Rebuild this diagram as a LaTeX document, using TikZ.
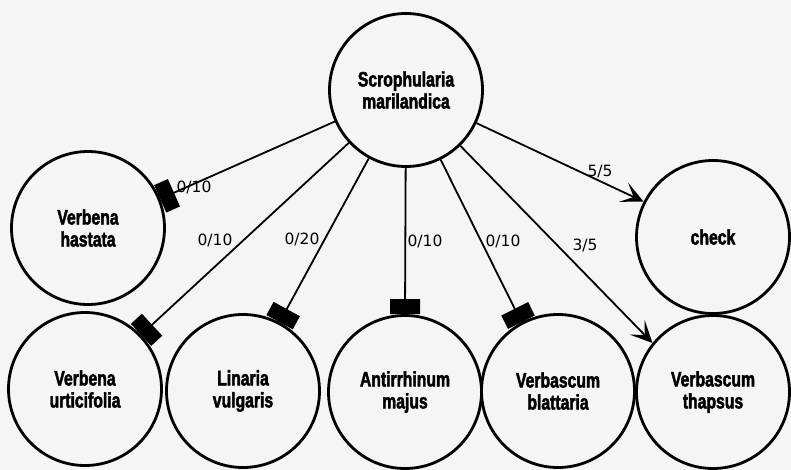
\documentclass[tikz,border=0pt]{standalone}
\usepackage{fontspec}
\usetikzlibrary{arrows.meta}
\newfontfamily\plantfont{Liberation Sans}[FakeStretch=0.75, FakeBold=2]
\newfontfamily\ratiofont{DejaVu Sans}

\tikzset{
  plant/.style={circle, draw, line width=2.8pt, minimum size=153pt, inner sep=0pt,
    align=center, font=\plantfont\bfseries\fontsize{21}{22}\selectfont},
  blocked/.style={line width=1.8pt, -{Rectangle[length=15pt,width=30pt]}},
  passed/.style={line width=1.8pt, -{Stealth[length=22pt,width=21pt,inset=11pt]}},
  ratio/.style={font=\ratiofont\fontsize{15.5}{16}\selectfont, inner sep=0pt},
}

\begin{document}
\begin{tikzpicture}[x=1pt, y=-1pt]
  \fill[black!4] (0,0) rectangle (791,470);
  \useasboundingbox (0,0) rectangle (791,470);

  % host plant
  \node[plant] (sm) at (406,90) {Scrophularia\\marilandica};

  % test plants
  \node[plant] (vh) at (88,228)  {Verbena\\hastata};
  \node[plant] (ck) at (713,237) {check};
  \node[plant] (vu) at (85,389)  {Verbena\\urticifolia};
  \node[plant] (lv) at (243,391) {Linaria\\vulgaris};
  \node[plant] (am) at (405,392) {Antirrhinum\\majus};
  \node[plant] (vb) at (558,391) {Verbascum\\blattaria};
  \node[plant] (vt) at (713,392) {Verbascum\\thapsus};

  % transfers that failed
  \draw[blocked] (sm) -- (vh.22);
  \draw[blocked] (sm) -- (vu.44);
  \draw[blocked] (sm) -- (lv.62);
  \draw[blocked] (sm) -- (am.90);
  \draw[blocked] (sm) -- (vb.118);

  % transfers that took
  \draw[passed] (sm) -- (vt.141);
  \draw[passed] (sm) -- (ck.153);

  % infection ratios
  \node[ratio] (r1) at (194,187) {0/10};
  \node[ratio] (r2) at (215,240) {0/10};
  \node[ratio] (r3) at (302,239) {0/20};
  \node[ratio] (r4) at (425,241) {0/10};
  \node[ratio] (r5) at (503,241) {0/10};
  \node[ratio] (r6) at (585,245) {3/5};
  \node[ratio] (r7) at (600,172) {5/5};
\end{tikzpicture}
\end{document}
